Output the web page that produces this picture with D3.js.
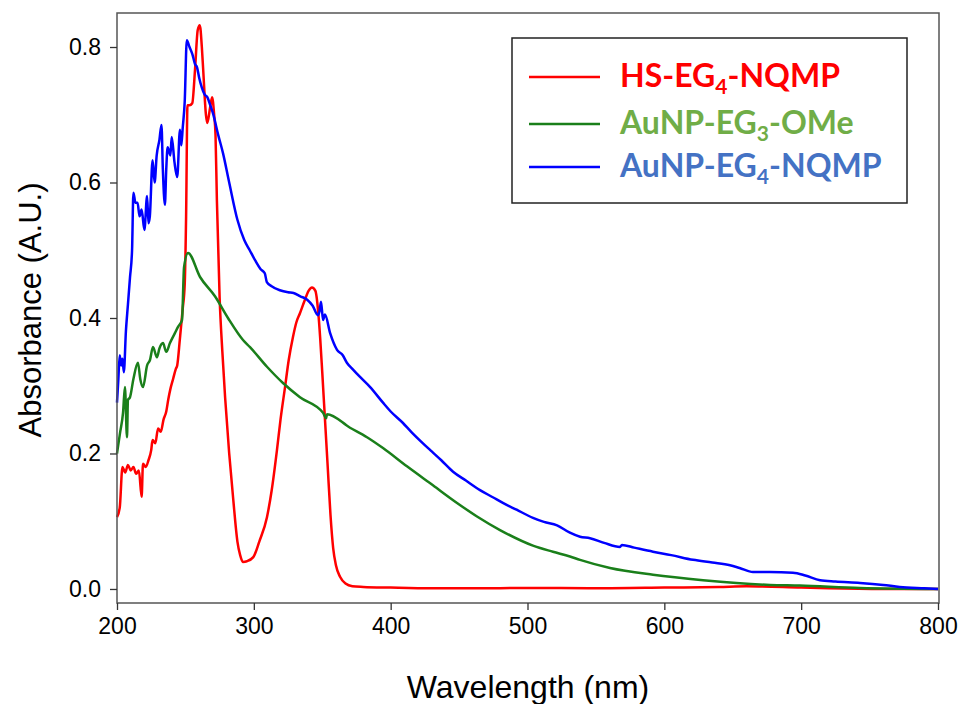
<!DOCTYPE html>
<html>
<head>
<meta charset="utf-8">
<script src="https://cdn.jsdelivr.net/npm/d3@7"></script>
<style>
  body { margin: 0; background: #fff; }
  svg text { font-family: "Liberation Sans", Arial, sans-serif; }
</style>
</head>
<body>
<svg id="chart" width="960" height="704"></svg>
<script>
/* global d3 */

// HS-EG4-NQMP (red)
var redWl = [200, 202, 204, 206, 208, 210, 212, 214, 216, 218, 219, 221, 223, 225, 226, 228, 230, 232, 234, 236,
  237.5, 239, 241, 243, 244, 246, 248, 249.5, 250.5, 251.5, 253, 255, 257, 259, 260.5, 262, 263, 265, 266, 268,
  269.5, 271, 272, 273, 275, 277, 279, 282, 285, 288, 290, 292, 295, 299.6, 304, 309.6, 313, 316.9,
  319.5, 322.8, 325.5, 328.6, 331, 333.7, 337, 340, 342.5, 345, 347, 348.5, 350, 352, 354, 356, 358, 360, 363, 367,
  372, 380, 400, 430, 460, 500, 550, 600, 640, 660, 700, 720, 760, 800];
var redAbs = [0.106, 0.12, 0.18, 0.172, 0.183, 0.175, 0.18, 0.17, 0.175, 0.136, 0.185, 0.18, 0.19, 0.205, 0.22, 0.215, 0.237, 0.232, 0.25, 0.262,
  0.28, 0.295, 0.31, 0.325, 0.33, 0.37, 0.413, 0.45, 0.55, 0.714, 0.714, 0.717, 0.766, 0.825, 0.832, 0.8, 0.766, 0.7, 0.688, 0.71,
  0.726, 0.7, 0.67, 0.574, 0.43, 0.35, 0.283, 0.2, 0.131, 0.07, 0.05, 0.04, 0.041, 0.047, 0.07, 0.106, 0.145, 0.205,
  0.25, 0.298, 0.338, 0.372, 0.393, 0.407, 0.425, 0.44, 0.445, 0.44, 0.41, 0.37, 0.32, 0.25, 0.18, 0.11, 0.06, 0.035, 0.018, 0.008,
  0.004, 0.003, 0.002, 0.001, 0.001, 0.0015, 0.001, 0.002, 0.003, 0.004, 0.002, 0.001, 0.0, 0.0];

// AuNP-EG3-OMe (green)
var greenWl = [200, 202.2, 204.4, 205.8, 207.3, 208, 209.5, 212, 215.3, 217, 219, 222, 224.1, 226.3, 229.2, 231, 233.6, 236, 238.7, 242.4,
  244.6, 247.5, 249, 251.9, 260.7, 271.6, 281.1, 292.1, 297.2, 309.6, 321.3, 333.7, 350.6, 352.8, 353.5, 370.3, 382.7, 394.4, 411.9, 430.9,
  448.5, 463.1, 479.9, 504, 518.6, 531, 538.4, 560.3, 591.7, 628.3, 677.2, 699, 743, 800];
var greenAbs = [0.2, 0.23, 0.26, 0.298, 0.224, 0.279, 0.283, 0.31, 0.334, 0.31, 0.298, 0.33, 0.338, 0.357, 0.342, 0.355, 0.363, 0.35, 0.363, 0.378,
  0.387, 0.397, 0.475, 0.496, 0.4605, 0.432, 0.4, 0.3675, 0.357, 0.328, 0.304, 0.283, 0.26, 0.252, 0.258, 0.238, 0.224, 0.208, 0.181, 0.153,
  0.127, 0.107, 0.087, 0.064, 0.055, 0.048, 0.043, 0.031, 0.021, 0.013, 0.006, 0.005, 0.0015, 0.0];

// AuNP-EG4-NQMP (blue)
var blueWl = [200, 201, 202, 203, 204, 205, 206.5, 208, 209.5, 211, 212, 213.5, 215, 216.5, 218, 220, 222, 223, 224, 226,
  227.5, 229, 231, 232.5, 233.5, 235, 236, 237, 239, 240, 242, 244, 246, 247, 248, 249.5, 251, 253, 255, 257,
  258.5, 260, 262, 264, 266, 268, 270, 274, 277.5, 282, 288, 293, 297, 301, 305, 308, 309.5, 313, 319, 325,
  329, 334, 339, 343, 346.9, 348, 349.1, 350.6, 352, 355.7, 360.8, 365, 368, 372, 377.6, 385, 394.4, 400, 409, 415,
  423.6, 430, 437, 445.6, 455, 465.3, 475, 482, 492, 504, 512, 521.6, 531, 538.4, 545.7, 556, 567.6, 569, 578, 591.7,
  605, 621, 635, 648, 655, 664.8, 677, 694, 703, 713.8, 725, 743, 760, 772, 790, 800];
var blueAbs = [0.275, 0.31, 0.345, 0.33, 0.34, 0.32, 0.38, 0.42, 0.46, 0.5, 0.585, 0.57, 0.57, 0.55, 0.56, 0.53, 0.58, 0.54, 0.55, 0.633,
  0.6, 0.64, 0.663, 0.685, 0.62, 0.567, 0.62, 0.652, 0.64, 0.667, 0.63, 0.608, 0.678, 0.655, 0.68, 0.72, 0.81, 0.8, 0.79, 0.775,
  0.77, 0.755, 0.74, 0.73, 0.726, 0.715, 0.703, 0.67, 0.643, 0.6, 0.545, 0.515, 0.5, 0.485, 0.472, 0.466, 0.453, 0.447, 0.441, 0.438,
  0.437, 0.432, 0.427, 0.418, 0.404, 0.41, 0.424, 0.397, 0.405, 0.378, 0.353, 0.345, 0.334, 0.325, 0.313, 0.298, 0.275, 0.262, 0.245, 0.232,
  0.215, 0.203, 0.19, 0.173, 0.16, 0.146, 0.135, 0.127, 0.117, 0.105, 0.099, 0.094, 0.083, 0.077, 0.075, 0.068, 0.062, 0.065, 0.061, 0.055,
  0.05, 0.043, 0.039, 0.035, 0.031, 0.025, 0.025, 0.024, 0.02, 0.013, 0.011, 0.009, 0.006, 0.003, 0.001, 0.0];

var xTicks = [200, 300, 400, 500, 600, 700, 800];
var yTicks = [0.0, 0.2, 0.4, 0.6, 0.8];

var legendNames = [
  { pre: "HS-EG", sub: "4", post: "-NQMP" },
  { pre: "AuNP-EG", sub: "3", post: "-OMe" },
  { pre: "AuNP-EG", sub: "4", post: "-NQMP" }
];

var series = [
  { wl: redWl, abs: redAbs, line: "#ff0000", text: "#ff0000" },
  { wl: greenWl, abs: greenAbs, line: "#1a7f1a", text: "#70ad47" },
  { wl: blueWl, abs: blueAbs, line: "#0000ff", text: "#4472c4" }
];

var svg = d3.select("#chart");

var plotLeft = 117, plotRight = 939, plotTop = 13, plotBottom = 603;

var x = d3.scaleLinear().domain([200, 800]).range([plotLeft, plotRight - 1]);
var y = d3.scaleLinear().domain([-0.0207, 0.8502]).range([plotBottom, plotTop]);

// curves
var line = d3.line()
  .x(function(d) { return x(d[0]); })
  .y(function(d) { return y(d[1]); })
  .curve(d3.curveMonotoneX);

var plot = svg.append("g").attr("class", "lines");
series.forEach(function(s) {
  plot.append("path")
    .datum(d3.zip(s.wl, s.abs))
    .attr("d", line)
    .attr("fill", "none")
    .attr("stroke", s.line)
    .attr("stroke-width", 2.5)
    .attr("stroke-linejoin", "round");
});

// frame
svg.append("rect")
  .attr("x", plotLeft)
  .attr("y", plotTop)
  .attr("width", plotRight - plotLeft)
  .attr("height", plotBottom - plotTop)
  .attr("fill", "none")
  .attr("stroke", "#555")
  .attr("stroke-width", 1.5);

var xAxis = svg.append("g")
  .attr("transform", "translate(0," + plotBottom + ")")
  .call(d3.axisBottom(x).tickValues(xTicks).tickSize(7).tickPadding(8).tickSizeOuter(0));

var yAxis = svg.append("g")
  .attr("transform", "translate(" + plotLeft + ",0)")
  .call(d3.axisLeft(y).tickValues(yTicks).tickFormat(d3.format(".1f")).tickSize(7).tickPadding(9).tickSizeOuter(0));

[xAxis, yAxis].forEach(function(a) {
  a.select(".domain").remove();
  a.selectAll(".tick line").attr("stroke", "#333").attr("stroke-width", 1.3);
  a.selectAll(".tick text")
    .attr("fill", "#000")
    .style("font-size", "23px")
    .style("font-family", "'Liberation Sans', Arial, sans-serif");
});

svg.append("text")
  .attr("x", (plotLeft + plotRight) / 2)
  .attr("y", 698)
  .attr("text-anchor", "middle")
  .style("font-size", "32px")
  .text("Wavelength (nm)");

svg.append("text")
  .attr("transform", "translate(41,310) rotate(-90)")
  .attr("text-anchor", "middle")
  .style("font-size", "31px")
  .text("Absorbance (A.U.)");

// legend
var legend = svg.append("g").attr("class", "legend");
legend.append("rect")
  .attr("x", 512).attr("y", 38)
  .attr("width", 395).attr("height", 165)
  .attr("fill", "#fff")
  .attr("stroke", "#222")
  .attr("stroke-width", 1.5);

var rowY = [77, 124, 167];
series.forEach(function(s, i) {
  legend.append("line")
    .attr("x1", 529).attr("x2", 600)
    .attr("y1", rowY[i]).attr("y2", rowY[i])
    .attr("stroke", s.line)
    .attr("stroke-width", 2.5);
  var t = legend.append("text")
    .attr("x", 620)
    .attr("y", rowY[i] + 10)
    .attr("fill", s.text)
    .style("font-family", "Lato, 'Open Sans', sans-serif")
    .style("font-weight", "bold")
    .style("font-size", "32px");
  t.append("tspan").text(legendNames[i].pre);
  t.append("tspan").attr("dy", 7).style("font-size", "21px").text(legendNames[i].sub);
  t.append("tspan").attr("dy", -7).text(legendNames[i].post);
});
</script>
</body>
</html>
